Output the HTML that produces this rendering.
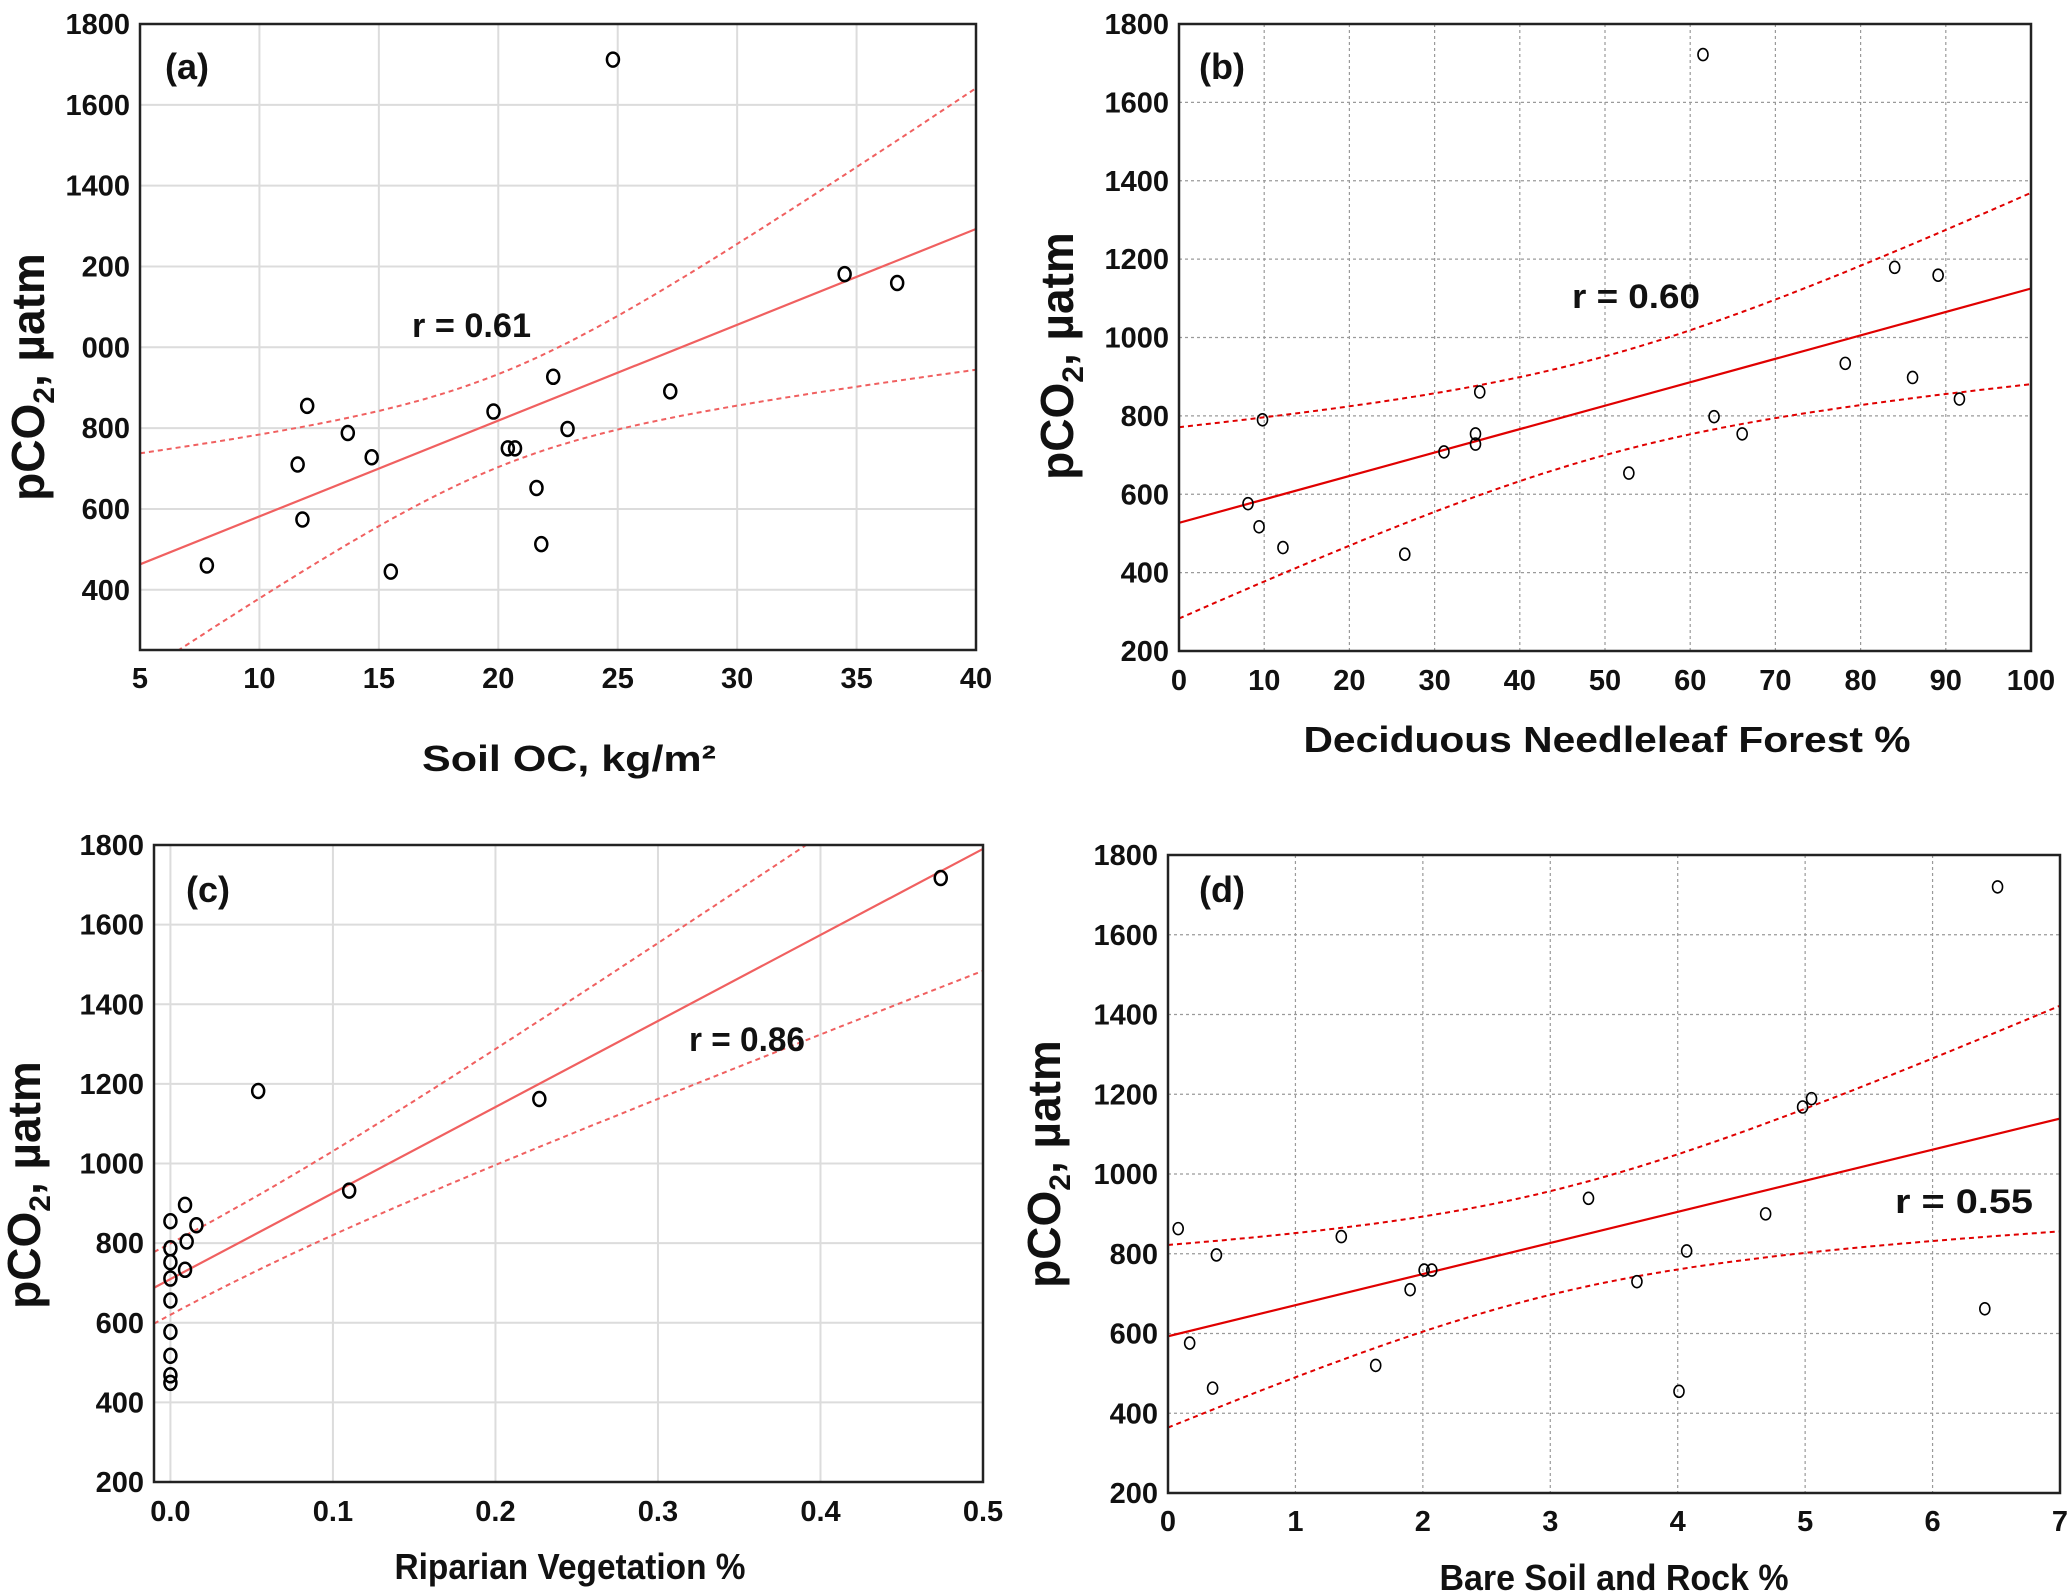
<!DOCTYPE html>
<html><head><meta charset="utf-8">
<style>
html,body{margin:0;padding:0;background:#fff;}
svg{display:block;font-family:"Liberation Sans",Arial,sans-serif;}
</style></head>
<body>
<svg id="fig" width="2067" height="1596" viewBox="0 0 2067 1596" xmlns="http://www.w3.org/2000/svg">
<defs>
<clipPath id="clipA"><rect x="140" y="24" width="836" height="626"/></clipPath>
<clipPath id="clipB"><rect x="1179" y="24" width="852" height="627"/></clipPath>
<clipPath id="clipC"><rect x="154" y="845" width="829" height="637"/></clipPath>
<clipPath id="clipD"><rect x="1168" y="855" width="892" height="638"/></clipPath>
</defs>
</svg>
<script>
// ---- Panel (a) data ----
const aX = [24.8,7.8,11.6,12.0,11.8,13.7,14.7,15.5,19.8,20.4,20.7,21.6,21.8,22.3,22.9,27.2,34.5,36.7];
const aY = [1712,460,710,855,574,788,728,445,841,750,750,652,513,927,798,891,1181,1159];
const aXTicks = [5,10,15,20,25,30,35,40];
const aYTicks = [1800,1600,1400,1200,1000,800,600,400];
const aYTickLabels = ["1800","1600","1400","200","000","800","600","400"];
const aFit = [344.4,23.71];        // intercept, slope
const aBand = [20.1,115,273];      // center, half-width at center, curvature
// ---- Panel (b) data ----
const bX = [61.5,8.1,9.4,9.8,12.2,26.5,31.1,34.8,34.8,35.3,52.8,62.8,66.1,78.2,84.0,86.1,89.1,91.6];
const bY = [1722,576,517,790,464,447,708,754,728,861,654,798,754,934,1179,898,1159,843];
const bXTicks = [0,10,20,30,40,50,60,70,80,90,100];
const bYTicks = [200,400,600,800,1000,1200,1400,1600,1800];
const bFit = [527,5.98];
const bBand = [50,126,17.5];
// ---- Panel (c) data ----
const cX = [0.474,0.054,0.227,0.110,0,0.009,0.016,0.010,0,0,0.009,0,0,0,0,0,0];
const cY = [1717,1182,1162,932,855,896,845,804,787,752,733,711,656,577,517,468,449];
const cXTicks = [0,0.1,0.2,0.3,0.4,0.5];
const cXTickLabels = ["0.0","0.1","0.2","0.3","0.4","0.5"];
const cYTicks = [200,400,600,800,1000,1200,1400,1600,1800];
const cFit = [709.6,2161];
const cBand = [0.006,89.5,350835];
// ---- Panel (d) data ----
const dX = [6.51,0.08,0.38,0.17,0.35,1.36,1.63,1.90,2.01,2.07,3.30,3.68,4.01,4.07,4.69,4.98,5.05,6.41];
const dY = [1720,863,797,576,463,843,520,710,759,759,939,730,455,807,900,1168,1189,662];
const dXTicks = [0,1,2,3,4,5,6,7];
const dYTicks = [200,400,600,800,1000,1200,1400,1600,1800];
const dFit = [593,78];
const dBand = [3.0,130,3950];

const NS = "http://www.w3.org/2000/svg";
const svg = document.getElementById('fig');
function mk(tag, attrs, parent){
  const e = document.createElementNS(NS, tag);
  for (const k in attrs) e.setAttribute(k, attrs[k]);
  (parent||svg).appendChild(e);
  return e;
}

function panel(cfg){
  const g = mk('g', {});
  
  
  const [L,T,R,B] = cfg.box;
  const sx = v => L + (v - cfg.xmin) / (cfg.xmax - cfg.xmin) * (R - L);
  const sy = v => B - (v - cfg.ymin) / (cfg.ymax - cfg.ymin) * (B - T);

  // grid
  const grid = mk('g', {}, g);
  
  
  const gstyle = cfg.dotted ? {stroke:'#9a9a9a','stroke-width':1.2,'stroke-dasharray':'3,3'} : {stroke:'#dcdcdc','stroke-width':2};
  cfg.xt.forEach(v => { const x = sx(v); if (x > L+2 && x < R-2) mk('line', Object.assign({x1:x,x2:x,y1:T,y2:B}, gstyle), grid); });
  cfg.yt.forEach(v => { const y = sy(v); if (y > T+2 && y < B-2) mk('line', Object.assign({x1:L,x2:R,y1:y,y2:y}, gstyle), grid); });

  // fit + bands
  const fits = mk('g', {'clip-path':'url(#' + cfg.clip + ')'}, g);
  const f = x => cfg.fit[0] + cfg.fit[1] * x;
  const hw = x => Math.sqrt(cfg.band[1]*cfg.band[1] + cfg.band[2]*(x-cfg.band[0])*(x-cfg.band[0]));
  const fitLine = mk('line', {x1:sx(cfg.xmin), y1:sy(f(cfg.xmin)), x2:sx(cfg.xmax), y2:sy(f(cfg.xmax)), stroke:cfg.lc, 'stroke-width':2.2}, fits);
  
  
  [1,-1].forEach(sgn => {
    let d = '';
    for (let i = 0; i <= 80; i++) {
      const x = cfg.xmin + (cfg.xmax - cfg.xmin) * i / 80;
      d += (i ? 'L' : 'M') + sx(x).toFixed(1) + ',' + sy(f(x) + sgn*hw(x)).toFixed(1);
    }
    const p = mk('path', {d:d, fill:'none', stroke:cfg.lc, 'stroke-width':2, 'stroke-dasharray':'5,4'}, fits);
    
    
  });

  // points
  const pts = mk('g', {}, g);
  cfg.xs.forEach((xv, i) => {
    const c = mk('ellipse', {cx:sx(xv), cy:sy(cfg.ys[i]), rx:cfg.r[0], ry:cfg.r[1], fill:'none', stroke:'#000', 'stroke-width':cfg.r[2]}, pts);
    
    
  });

  // frame
  const fr = mk('rect', {x:L, y:T, width:R-L, height:B-T, fill:'none', stroke:'#222', 'stroke-width':2.5}, g);
  
  

  // ticks
  cfg.yt.forEach((v, i) => {
    const t = mk('text', {x:L-10, y:sy(v)+10, 'text-anchor':'end', 'font-size':29, 'font-weight':'bold', fill:'#111'}, g);
    t.textContent = cfg.ytl ? cfg.ytl[i] : String(v);
    
    
  });
  cfg.xt.forEach((v, i) => {
    const t = mk('text', {x:sx(v), y:cfg.xtb, 'text-anchor':'middle', 'font-size':29, 'font-weight':'bold', fill:'#111'}, g);
    t.textContent = cfg.xtl ? cfg.xtl[i] : String(v);
    
    
  });

  // y axis title
  const yt = mk('text', {transform:'translate(' + cfg.ylab[0] + ',' + cfg.ylab[1] + ') rotate(-90)', 'text-anchor':'middle', 'font-size':46, 'font-weight':'bold', fill:'#111'}, g);
  
  
  const t1 = mk('tspan', {}, yt); t1.textContent = 'pCO';
  const t2 = mk('tspan', {'font-size':30, dy:10}, yt); t2.textContent = '2';
  const t3 = mk('tspan', {dy:-10}, yt); t3.textContent = ', µatm';

  // x axis title
  const xt = mk('text', {x:cfg.xlab[0], y:cfg.xlab[1], 'text-anchor':'middle', 'font-size':36, 'font-weight':'bold', fill:'#111', textLength:cfg.xlab[2], lengthAdjust:'spacingAndGlyphs'}, g);
  xt.textContent = cfg.xlabText;
  
  

  // panel letter
  const pl = mk('text', {x:cfg.pl[0], y:cfg.pl[1], 'font-size':36, 'font-weight':'bold', fill:'#111'}, g);
  pl.textContent = '(' + cfg.id + ')';
  
  

  // r annotation
  const rt = mk('text', {x:cfg.rl[0], y:cfg.rl[1], 'font-size':34, 'font-weight':'bold', fill:'#111', textLength:cfg.rl[2], lengthAdjust:'spacingAndGlyphs'}, g);
  rt.textContent = cfg.rText;
  
  
}

panel({id:'a', box:[140,24,976,650], xmin:5, xmax:40, ymin:251, ymax:1800, clip:'clipA',
  xs:aX, ys:aY, xt:aXTicks, yt:aYTicks, ytl:aYTickLabels, fit:aFit, band:aBand,
  lc:'#f06060', dotted:false, r:[6,7,2.5], xtb:688, ylab:[44,377], xlab:[569,771,294],
  xlabText:'Soil OC,  kg/m²', pl:[165,79], rl:[412,337,119], rText:'r = 0.61'});
panel({id:'b', box:[1179,24,2031,651], xmin:0, xmax:100, ymin:200, ymax:1800, clip:'clipB',
  xs:bX, ys:bY, xt:bXTicks, yt:bYTicks, fit:bFit, band:bBand,
  lc:'#e00000', dotted:true, r:[5,6,1.6], xtb:690, ylab:[1073,356], xlab:[1607,752,607],
  xlabText:'Deciduous Needleleaf Forest %', pl:[1199,79], rl:[1572,308,128], rText:'r = 0.60'});
panel({id:'c', box:[154,845,983,1482], xmin:-0.0101, xmax:0.5, ymin:200, ymax:1800, clip:'clipC',
  xs:cX, ys:cY, xt:cXTicks, xtl:cXTickLabels, yt:cYTicks, fit:cFit, band:cBand,
  lc:'#f06060', dotted:false, r:[6,7,2.5], xtb:1521, ylab:[40,1185], xlab:[570,1579,351],
  xlabText:'Riparian Vegetation %', pl:[186,902], rl:[689,1051,116], rText:'r = 0.86'});
panel({id:'d', box:[1168,855,2060,1493], xmin:0, xmax:7, ymin:200, ymax:1800, clip:'clipD',
  xs:dX, ys:dY, xt:dXTicks, yt:dYTicks, fit:dFit, band:dBand,
  lc:'#e00000', dotted:true, r:[5,6,1.6], xtb:1531, ylab:[1060,1164], xlab:[1614,1590,349],
  xlabText:'Bare Soil and Rock %', pl:[1199,902], rl:[1895,1213,138], rText:'r = 0.55'});
</script>
</body></html>
